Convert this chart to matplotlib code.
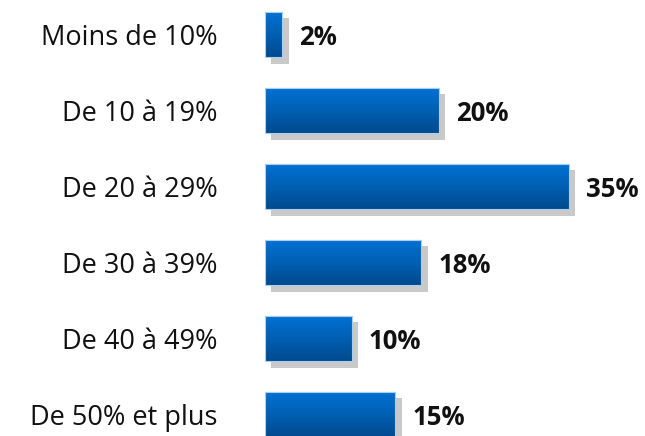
import numpy as np
import matplotlib
matplotlib.use("Agg")
import matplotlib.pyplot as plt
from matplotlib import patheffects as pe
from matplotlib.colors import LinearSegmentedColormap

categories = ["Moins de 10%", "De 10 à 19%", "De 20 à 29%", "De 30 à 39%", "De 40 à 49%", "De 50% et plus"]
values = [2, 20, 35, 18, 10, 15]
value_labels = ["2%", "20%", "35%", "18%", "10%", "15%"]

plt.rcParams['font.family'] = ['Open Sans', 'DejaVu Sans']

W, H = 645, 436
fig = plt.figure(figsize=(W / 100, H / 100), dpi=100)
ax = fig.add_axes([265 / W, 0, 1 - 265 / W, 1])

px_per_unit = 304 / 35
step = 76.0
top = 34.5 / step

y = np.arange(len(categories))
bars = ax.barh(y, values, height=0.6, color="#0060B8", edgecolor="#9cc6ee", linewidth=0.8,
               path_effects=[pe.SimplePatchShadow(offset=(4.5, -4.5), shadow_rgbFace="#c0c0c0", alpha=0.85),
                             pe.Normal()], zorder=2)

cmap = LinearSegmentedColormap.from_list("g", ["#0072D4", "#0060B4", "#004A8E"])
grad = np.linspace(0, 1, 256).reshape(-1, 1)
for b in bars:
    x0, y0 = b.get_x(), b.get_y()
    w, h = b.get_width(), b.get_height()
    im = ax.imshow(grad, cmap=cmap, aspect="auto", extent=(x0, x0 + w, y0 + h, y0),
                   zorder=3, interpolation="bilinear")
    im.set_clip_path(b)
    edge = plt.Rectangle((x0, y0), w, h, fill=False, edgecolor="#a8d0f4", linewidth=0.8, zorder=4)
    ax.add_patch(edge)

for yi, v, lab in zip(y, values, value_labels):
    ax.text(v + 17 / px_per_unit, yi, lab, va="center_baseline", ha="left", fontsize=18.5,
            fontweight="bold", color="#111111")

ax.set_yticks(y)
ax.set_yticklabels(categories, fontsize=19.5, color="#111111")
ax.tick_params(axis="y", length=0, pad=34)
ax.set_xticks([])
for s in ax.spines.values():
    s.set_visible(False)
ax.set_ylim((H - 34.5) / step, -top)
ax.set_xlim(0, (W - 265) / px_per_unit)

fig.savefig("out.png", dpi=100)
